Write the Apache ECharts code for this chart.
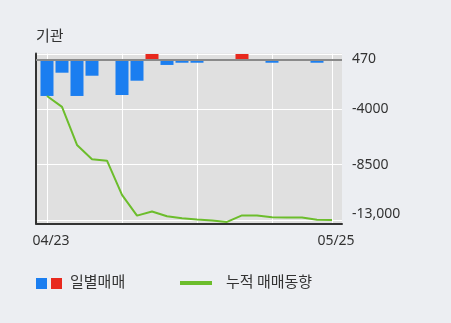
<!DOCTYPE html>
<html><head><meta charset="utf-8">
<script src="https://cdn.jsdelivr.net/npm/echarts@6/dist/echarts.min.js"></script>
<style>html,body{margin:0;padding:0;background:#eceef2;} #c{width:451px;height:323px;}</style>
</head><body><div id="c"></div>
<script>
// Daily net trades (institution) and cumulative trend
const dailyTrades = [-2920,-1030,-2920,-1275,0,-2840,-1680,490,-400,-220,-220,0,0,490,0,-220,0,0,-220,0];
const cumulative = [-2920,-3810,-6900,-8060,-8175,-10960,-12640,-12300,-12690,-12850,-12950,-13030,-13150,-12625,-12625,-12770,-12790,-12800,-12975,-12990];
const yTickValues = [470,-4000,-8500,-13000];
const yTickLabels = ['470','-4000','-8500','-13,000'];
const xTickIndex = [0,19];
const xTickLabels = ['04/23','05/25'];
const xGridIndex = [0,5,10,15,19];
const legendNames = ['일별매매','누적 매매동향'];

const BLUE = '#1b7ef0', RED = '#e8291e', GREEN = '#6cbd2c';
const FONT = 'Noto Sans, Noto Sans CJK KR, sans-serif';

const chart = echarts.init(document.getElementById('c'), null, {renderer:'canvas'});
chart.setOption({
  animation:false,
  backgroundColor:'#eceef2',
  title:{text:'기관', left:36, top:28, padding:0,
    textStyle:{fontFamily:'Noto Sans CJK KR', fontSize:15, fontWeight:'normal', color:'#333'}},
  grid:{left:36, right:109, top:53.5, bottom:99.5, show:true, backgroundColor:'#e0e0e0', borderWidth:0},
  xAxis:{type:'value', min:-0.733, max:19.667,
    axisLine:{show:true, onZero:false, lineStyle:{color:'#333', width:2}},
    axisTick:{show:false, customValues:xGridIndex},
    splitLine:{show:true, lineStyle:{color:'#ffffff', width:1}},
    axisLabel:{customValues:xTickIndex, margin:11, padding:[0,0,0,8],
      fontFamily:FONT, fontSize:14, color:'#333',
      formatter:(v)=>xTickLabels[xTickIndex.indexOf(Math.round(v))] || ''}
  },
  yAxis:[{type:'value', position:'right', min:-13280, max:530,
    axisLine:{show:false},
    axisTick:{show:false, customValues:yTickValues},
    splitLine:{show:true, lineStyle:{color:'#ffffff', width:1}},
    axisLabel:{customValues:yTickValues, margin:10, fontFamily:FONT, fontSize:14, color:'#333',
      formatter:(v)=>{
        const i = yTickValues.indexOf(v);
        const s = yTickLabels[i];
        if(i===0) return '{t|'+s+'}';
        if(i===yTickValues.length-1) return '{b|'+s+'}';
        return s;
      },
      rich:{t:{padding:[10,0,0,0], fontFamily:FONT, fontSize:14, color:'#333'},
            b:{padding:[0,0,12,0], fontFamily:FONT, fontSize:14, color:'#333'}}
    }
  },{type:'value', position:'left', min:-13280, max:530,
    axisLine:{show:true, lineStyle:{color:'#333', width:2}},
    axisTick:{show:false}, axisLabel:{show:false}, splitLine:{show:false}
  }],
  series:[{
    name:legendNames[0], type:'bar', barWidth:13, z:2,
    data: dailyTrades.map((v,i)=>({value:[i,v], itemStyle:{color: v>=0?RED:BLUE}})),
    markLine:{silent:true, symbol:'none', label:{show:false},
      lineStyle:{color:'#8a8a8a', width:2, type:'solid'}, data:[{yAxis:0}]}
  },{
    name:legendNames[1], type:'line', showSymbol:false, symbol:'none', z:3,
    lineStyle:{color:GREEN, width:2},
    data: cumulative.map((v,i)=>[i,v])
  }],
  graphic:[
    {type:'rect', left:36, top:278, shape:{width:11,height:11}, style:{fill:BLUE}},
    {type:'rect', left:51, top:278, shape:{width:11,height:11}, style:{fill:RED}},
    {type:'text', left:70, top:274, style:{text:legendNames[0], fontFamily:'Noto Sans CJK KR', fontSize:15, fill:'#333'}},
    {type:'rect', left:180, top:281, shape:{width:32,height:4}, style:{fill:GREEN}},
    {type:'text', left:226, top:274, style:{text:legendNames[1], fontFamily:'Noto Sans CJK KR', fontSize:15, fill:'#333'}}
  ]
});
</script></body></html>
